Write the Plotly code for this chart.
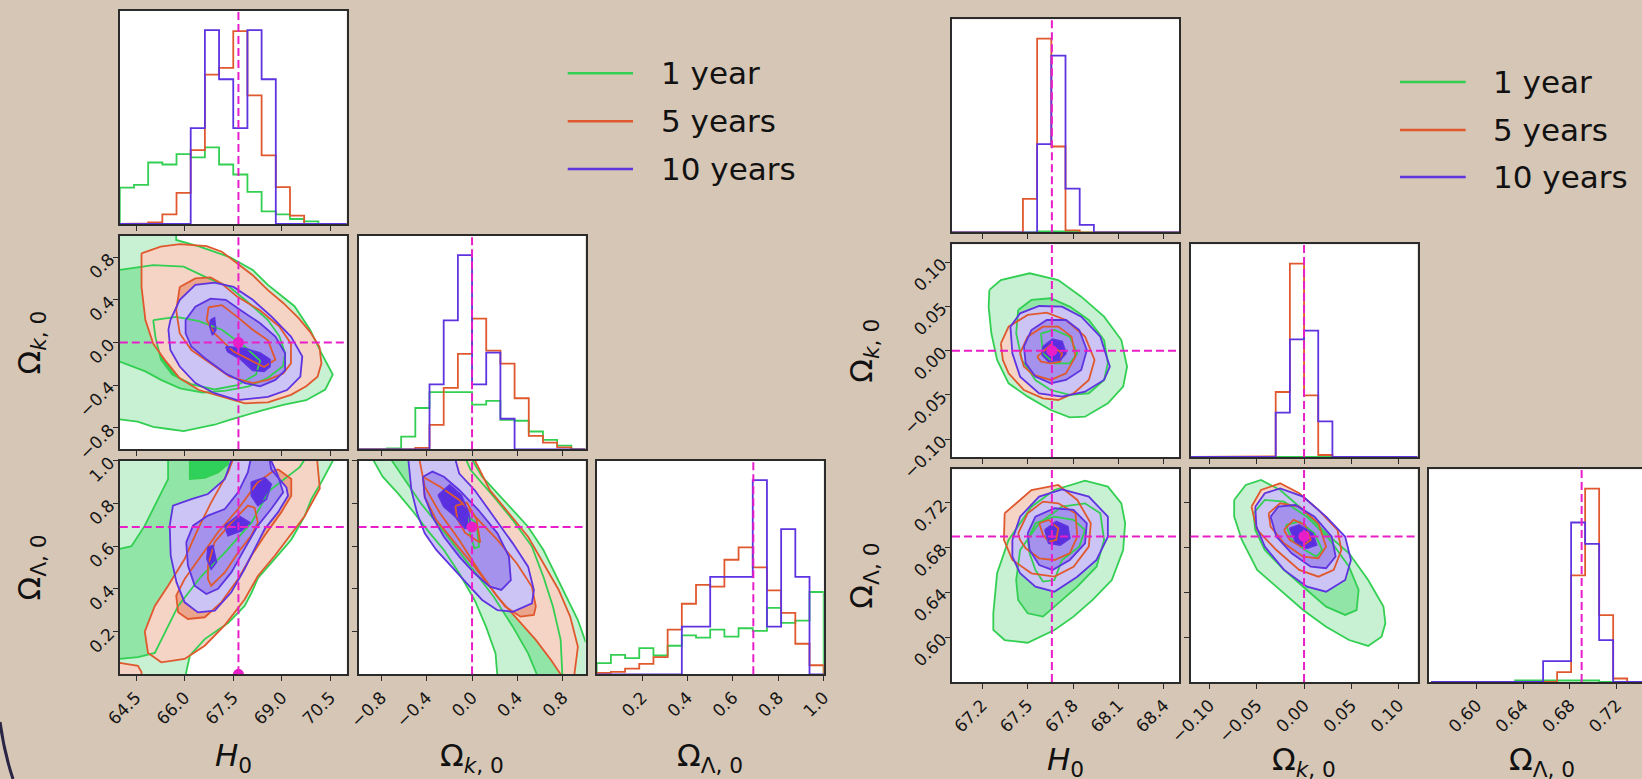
import plotly.graph_objects as go

W, H = 1642, 779
BG = '#d6c6b5'
MAG = '#e81ec8'
FRAME = '#2b2b2b'
FONT = 'DejaVu Sans'
SERIES = ['1 year', '5 years', '10 years']
LINE_COL = ['#33cf52', '#e0592e', '#5e33e0']
FILL_COL = [['#c7f1d2', '#90e5a7', '#2fd15a'],
            ['#f5d3c5', '#eca58d', '#e3764c'],
            ['#ccc4f5', '#a492ec', '#5a2fe0']]

# ---------------- truths ----------------
TRUTH_H0 = 67.66
TRUTH_OK = 0.0
TRUTH_OL = 0.69

# ---------------- axes: ranges & ticks ----------------
L_H0_RANGE = [64.0, 71.0]
L_OK_RANGE = [-1.0, 1.0]
L_OL_RANGE = [0.0, 1.0]
R_H0_RANGE = [67.0, 68.5]
R_OK_RANGE = [-0.12, 0.12]
R_OL_RANGE = [0.56, 0.75]
R_OL_XRANGE = [0.559, 0.7417]   # last column is cut by the window edge

L_H0_TICKS = [64.5, 66.0, 67.5, 69.0, 70.5]
L_OK_TICKS = [-0.8, -0.4, 0.0, 0.4, 0.8]
L_OL_TICKS = [0.2, 0.4, 0.6, 0.8, 1.0]
R_H0_TICKS = [67.2, 67.5, 67.8, 68.1, 68.4]
R_OK_TICKS = [-0.10, -0.05, 0.0, 0.05, 0.10]
R_OL_TICKS = [0.60, 0.64, 0.68, 0.72]

# ---------------- 1D histograms (edges + counts: 1yr, 5yr, 10yr) ----------------
L_H0_EDGES = [64.0, 64.4375, 64.875, 65.3125, 65.75, 66.1875, 66.625, 67.0625, 67.5,
              67.9375, 68.375, 68.8125, 69.25, 69.6875, 70.125, 70.5625, 71.0]
L_H0_1YR = [109, 117, 184, 178, 209, 199, 229, 178, 148, 96, 38, 29, 15, 8, 0, 0]
L_H0_5YR = [0, 2, 5, 29, 93, 221, 447, 467, 577, 385, 205, 110, 25, 1, 0, 0]
L_H0_10YR = [0, 0, 0, 0, 0, 287, 580, 433, 287, 580, 433, 0, 0, 0, 0, 0]

L_OK_EDGES = [-1.0, -0.875, -0.75, -0.625, -0.5, -0.375, -0.25, -0.125, 0.0,
              0.125, 0.25, 0.375, 0.5, 0.625, 0.75, 0.875, 1.0]
L_OK_1YR = [0, 0, 3, 38, 123, 170, 170, 170, 133, 144, 88, 85, 53, 28, 11, 0]
L_OK_5YR = [0, 0, 0, 0, 4, 73, 183, 284, 389, 294, 255, 152, 40, 20, 6, 0]
L_OK_10YR = [0, 0, 0, 0, 0, 193, 384, 578, 193, 288, 91, 0, 0, 0, 0, 0]

L_OL_EDGES = [0.0, 0.0625, 0.125, 0.1875, 0.25, 0.3125, 0.375, 0.4375, 0.5,
              0.5625, 0.625, 0.6875, 0.75, 0.8125, 0.875, 0.9375, 1.0]
L_OL_1YR = [33, 58, 48, 78, 56, 85, 116, 109, 133, 112, 137, 129, 198, 153, 160, 245]
L_OL_5YR = [4, 7, 17, 31, 51, 133, 210, 266, 261, 341, 378, 318, 250, 183, 91, 27]
L_OL_10YR = [0, 0, 0, 0, 0, 0, 142, 142, 290, 290, 290, 578, 142, 432, 290, 0]

R_H0_EDGES = [67.0, 67.09375, 67.1875, 67.28125, 67.375, 67.46875, 67.5625, 67.65625, 67.75,
              67.84375, 67.9375, 68.03125, 68.125, 68.21875, 68.3125, 68.40625, 68.5]
R_H0_1YR = [0, 0, 0, 0, 0, 0, 3, 3, 3, 0, 0, 0, 0, 0, 0, 0]
R_H0_5YR = [0, 0, 0, 0, 0, 100, 580, 257, 6, 0, 0, 0, 0, 0, 0, 0]
R_H0_10YR = [0, 0, 0, 0, 0, 0, 264, 529, 131, 22, 0, 0, 0, 0, 0, 0]

R_OK_EDGES = [-0.12, -0.105, -0.09, -0.075, -0.06, -0.045, -0.03, -0.015, 0.0,
              0.015, 0.03, 0.045, 0.06, 0.075, 0.09, 0.105, 0.12]
R_OK_1YR = [0, 0, 0, 0, 0, 0, 2, 2, 2, 2, 0, 0, 0, 0, 0, 0]
R_OK_5YR = [0, 0, 0, 0, 0, 2, 195, 580, 185, 6, 0, 0, 0, 0, 0, 0]
R_OK_10YR = [0, 0, 0, 0, 0, 0, 133, 353, 379, 107, 0, 0, 0, 0, 0, 0]

R_OL_EDGES = [0.561, 0.573, 0.585, 0.597, 0.609, 0.621, 0.633, 0.645, 0.657,
              0.669, 0.681, 0.693, 0.705, 0.717, 0.729, 0.741, 0.753]
R_OL_1YR = [0, 0, 0, 0, 0, 0, 3, 3, 3, 3, 3, 3, 0, 0, 0, 0]
R_OL_5YR = [0, 0, 0, 0, 0, 0, 0, 0, 0, 20, 214, 388, 134, 7, 0, 0]
R_OL_10YR = [0, 0, 0, 0, 0, 0, 0, 0, 42, 42, 320, 277, 84, 0, 0, 0]

# ---------------- 2D contours (rings of (x, y)) ----------------
# levels: 1 = outer, 2 = middle, 3 = inner ; G = 1 year, O = 5 years, P = 10 years
# Left plot, H0 vs Omega_k
L_HK_G1 = [[(63.5, 1.2), (65.74, 1.2), (65.74, 0.96), (66.44, 0.90), (67.39, 0.80), (68.10, 0.68),
            (68.57, 0.54), (69.04, 0.43), (69.39, 0.34), (69.87, 0.12), (70.22, -0.10), (70.57, -0.30),
            (70.34, -0.44), (69.75, -0.54), (69.04, -0.585), (68.45, -0.63), (67.86, -0.68),
            (67.39, -0.725), (66.92, -0.77), (66.44, -0.80), (65.97, -0.83), (65.50, -0.81),
            (65.03, -0.79), (64.55, -0.74), (64.0, -0.72), (63.5, -0.72)]]
L_HK_G2 = [[(63.5, 0.68), (64.0, 0.68), (65.03, 0.725), (65.97, 0.71), (66.67, 0.61), (67.39, 0.52),
            (67.98, 0.37), (68.57, 0.21), (68.92, 0.06), (69.10, -0.10), (69.04, -0.22), (68.57, -0.33),
            (67.98, -0.41), (67.27, -0.45), (66.56, -0.47), (65.86, -0.43), (65.27, -0.35),
            (64.79, -0.27), (64.0, -0.18), (63.5, -0.18)]]
L_HK_G3 = [[(65.03, 0.21), (65.74, 0.24), (66.44, 0.20), (67.15, 0.12), (67.86, -0.04), (68.33, -0.17),
            (68.2, -0.30), (67.63, -0.40), (66.92, -0.44), (66.2, -0.39), (65.62, -0.30), (65.27, -0.16),
            (65.1, 0.05)]]
L_HK_O1 = [[(64.67, 0.835), (65.26, 0.897), (65.85, 0.922), (66.68, 0.903), (67.15, 0.85), (67.62, 0.74),
            (68.10, 0.63), (68.57, 0.49), (69.04, 0.37), (69.51, 0.23), (69.87, 0.10), (70.16, -0.04),
            (70.22, -0.195), (70.10, -0.32), (69.75, -0.41), (69.28, -0.49), (68.57, -0.56),
            (67.86, -0.57), (67.15, -0.51), (66.44, -0.445), (65.85, -0.335), (65.38, -0.16),
            (65.03, -0.01), (64.79, 0.21), (64.67, 0.52)]]
L_HK_O2 = [[(65.85, 0.52), (66.33, 0.60), (66.80, 0.61), (67.15, 0.55), (67.62, 0.43), (68.33, 0.30),
            (68.92, 0.15), (69.28, -0.01), (69.28, -0.195), (69.04, -0.29), (68.57, -0.35), (68.10, -0.38),
            (67.39, -0.32), (66.80, -0.195), (66.21, -0.07), (65.85, 0.085), (65.74, 0.30)]]
L_HK_O3 = [[(66.74, 0.33), (67.15, 0.35), (67.62, 0.24), (68.10, 0.12), (68.57, 0.02), (68.80, -0.16),
            (68.45, -0.23), (67.98, -0.16), (67.51, -0.085), (66.92, 0.085), (66.68, 0.21)]]
L_HK_P1 = [[(65.56, 0.21), (65.85, 0.40), (66.33, 0.54), (66.92, 0.56), (67.51, 0.52), (68.10, 0.40),
            (68.69, 0.24), (69.28, 0.055), (69.63, -0.13), (69.57, -0.32), (69.16, -0.445), (68.57, -0.51),
            (67.62, -0.54), (66.92, -0.475), (66.33, -0.38), (65.85, -0.225), (65.56, -0.07), (65.50, 0.12)]]
L_HK_P2 = [[(66.03, 0.21), (66.33, 0.335), (66.80, 0.41), (67.27, 0.40), (67.74, 0.30), (68.33, 0.18),
            (68.80, 0.055), (69.10, -0.10), (69.10, -0.26), (68.80, -0.35), (68.33, -0.41), (67.86, -0.38),
            (67.27, -0.29), (66.68, -0.16), (66.21, -0.04), (66.03, 0.085)]]
L_HK_P3 = [[(67.27, -0.04), (67.86, -0.055), (68.33, -0.10), (68.63, -0.16), (68.63, -0.225),
            (68.45, -0.27), (68.10, -0.26), (67.74, -0.16), (67.33, -0.085)],
           [(66.80, 0.21), (66.92, 0.23), (66.96, 0.12), (66.86, 0.07), (66.78, 0.15)]]

# Left plot, H0 vs Omega_Lambda
L_HL_G1 = [[(63.5, 1.05), (70.75, 1.05), (70.22, 0.90), (69.91, 0.82), (69.70, 0.74), (69.29, 0.63),
            (68.78, 0.54), (68.26, 0.45), (68.06, 0.38), (67.85, 0.32), (67.34, 0.24), (66.62, 0.165),
            (66.16, 0.087), (66.05, 0.01), (66.0, -0.05), (63.5, -0.05)]]
L_HL_G2 = [[(65.49, 1.05), (65.49, 0.914), (65.18, 0.82), (64.77, 0.696), (64.36, 0.60), (64.0, 0.587),
            (63.5, 0.587), (63.5, 0.06), (64.0, 0.072), (64.56, 0.08), (65.08, 0.10), (65.80, 0.32),
            (66.52, 0.46), (67.24, 0.57), (68.06, 0.71), (68.62, 0.86), (69.55, 0.97), (69.9, 1.05)]]
L_HL_G3 = [[(66.16, 1.05), (66.16, 0.914), (66.62, 0.92), (67.03, 0.945), (67.34, 0.984), (67.4, 1.05)]]
L_HL_O1 = [[(70.06, 1.05), (70.17, 0.87), (69.70, 0.74), (69.29, 0.66), (68.78, 0.555), (68.26, 0.46),
            (67.85, 0.35), (67.24, 0.23), (66.62, 0.134), (66.0, 0.072), (65.28, 0.056), (64.87, 0.10),
            (64.77, 0.20), (65.08, 0.32), (65.49, 0.415), (66.0, 0.54), (66.41, 0.68), (66.82, 0.805),
            (67.34, 0.945), (67.6, 1.05)],
           [(63.5, 0.052), (64.0, 0.053), (64.56, 0.04), (64.67, 0.01), (64.67, -0.05), (63.5, -0.05)]]
L_HL_O2 = [[(68.88, 0.96), (69.29, 0.914), (69.29, 0.836), (68.98, 0.758), (68.47, 0.65), (68.06, 0.555),
            (67.65, 0.446), (67.13, 0.337), (66.62, 0.267), (66.10, 0.259), (65.80, 0.29), (65.74, 0.368),
            (66.0, 0.446), (66.52, 0.555), (67.03, 0.665), (67.65, 0.774), (68.26, 0.90), (68.67, 0.945)]]
L_HL_O3 = [[(66.72, 0.51), (66.93, 0.62), (67.44, 0.71), (67.95, 0.79), (68.16, 0.78), (68.26, 0.71),
            (68.06, 0.65), (67.65, 0.57), (67.24, 0.477), (66.82, 0.415), (66.72, 0.446)]]
L_HL_P1 = [[(65.54, 0.696), (65.64, 0.79), (66.21, 0.82), (66.72, 0.844), (67.24, 0.914), (67.55, 1.05),
            (68.57, 1.05), (68.67, 0.96), (69.14, 0.875), (69.19, 0.836), (68.88, 0.758), (68.47, 0.68),
            (68.16, 0.587), (67.85, 0.493), (67.44, 0.384), (66.93, 0.298), (66.41, 0.29), (66.0, 0.337),
            (65.75, 0.43), (65.57, 0.555)]]
L_HL_P2 = [[(66.05, 0.618), (66.26, 0.696), (66.72, 0.743), (67.24, 0.774), (67.65, 0.852), (67.95, 0.945),
            (68.1, 1.05), (68.52, 1.05), (68.88, 0.93), (69.04, 0.852), (68.67, 0.774), (68.26, 0.696),
            (67.85, 0.587), (67.44, 0.477), (67.03, 0.40), (66.67, 0.376), (66.31, 0.415), (66.10, 0.51)]]
L_HL_P3 = [[(68.06, 0.90), (68.47, 0.92), (68.67, 0.89), (68.52, 0.82), (68.26, 0.79), (68.06, 0.836)],
           [(67.24, 0.696), (67.65, 0.743), (68.01, 0.71), (67.75, 0.672), (67.34, 0.649)],
           [(66.72, 0.594), (66.87, 0.602), (66.98, 0.524), (66.82, 0.493), (66.69, 0.54)]]

# Left plot, Omega_k vs Omega_Lambda
L_KL_G1 = [[(-0.92, 1.05), (-0.788, 0.925), (-0.653, 0.847), (-0.518, 0.761), (-0.383, 0.668),
            (-0.248, 0.582), (-0.113, 0.473), (0.022, 0.348), (0.123, 0.223), (0.207, 0.098),
            (0.23, -0.05), (1.1, -0.05), (1.1, 0.153), (1.0, 0.153), (0.933, 0.254), (0.831, 0.363),
            (0.730, 0.473), (0.629, 0.582), (0.494, 0.691), (0.359, 0.769), (0.224, 0.847),
            (0.089, 0.925), (-0.05, 1.05)]]
L_KL_G2 = [[(-0.77, 1.05), (-0.450, 0.80), (-0.214, 0.644), (-0.012, 0.504), (0.191, 0.363),
            (0.359, 0.223), (0.494, 0.098), (0.61, -0.05), (0.80, -0.05), (0.781, 0.161), (0.713, 0.317),
            (0.629, 0.457), (0.528, 0.598), (0.359, 0.722), (0.191, 0.832), (-0.012, 0.956), (-0.09, 1.05)]]
L_KL_G3 = [[(-0.029, 0.738), (0.039, 0.707), (0.062, 0.598), (0.022, 0.59), (-0.019, 0.66)]]
L_KL_O1 = [[(-0.02, 1.05), (0.157, 0.862), (0.325, 0.754), (0.494, 0.644), (0.629, 0.52), (0.764, 0.395),
            (0.865, 0.27), (0.933, 0.129), (0.89, -0.05), (0.80, -0.05), (0.781, 0.0), (0.696, 0.067),
            (0.562, 0.161), (0.359, 0.285), (0.224, 0.363), (0.056, 0.488), (-0.113, 0.629),
            (-0.282, 0.754), (-0.417, 0.878), (-0.48, 1.05)]]
L_KL_O2 = [[(-0.433, 0.925), (-0.282, 0.878), (-0.113, 0.816), (0.056, 0.722), (0.224, 0.629),
            (0.393, 0.52), (0.528, 0.41), (0.562, 0.317), (0.545, 0.278), (0.427, 0.27), (0.292, 0.317),
            (0.157, 0.41), (0.022, 0.504), (-0.147, 0.613), (-0.315, 0.722), (-0.417, 0.83)]]
L_KL_O3 = [[(-0.147, 0.788), (-0.046, 0.804), (0.039, 0.726), (0.072, 0.617), (0.022, 0.632),
            (-0.062, 0.663), (-0.130, 0.726)]]
L_KL_P1 = [[(-0.57, 1.05), (-0.17, 1.05), (-0.113, 0.94), (0.022, 0.863), (0.191, 0.738), (0.359, 0.613),
            (0.494, 0.504), (0.545, 0.395), (0.528, 0.332), (0.359, 0.293), (0.224, 0.30), (0.089, 0.348),
            (-0.046, 0.426), (-0.180, 0.504), (-0.315, 0.582), (-0.417, 0.66), (-0.484, 0.754),
            (-0.535, 0.863)]]
L_KL_P2 = [[(-0.433, 0.925), (-0.349, 0.949), (-0.248, 0.925), (-0.113, 0.863), (0.056, 0.769),
            (0.224, 0.66), (0.325, 0.551), (0.342, 0.441), (0.258, 0.395), (0.157, 0.41), (0.022, 0.473),
            (-0.113, 0.551), (-0.248, 0.644), (-0.349, 0.738), (-0.417, 0.83)]]
L_KL_P3 = [[(-0.298, 0.839), (-0.197, 0.886), (-0.096, 0.839), (-0.029, 0.754), (-0.012, 0.691),
            (-0.062, 0.683), (-0.147, 0.738), (-0.248, 0.785)]]

# Right plot, H0 vs Omega_k
R_HK_G1 = [[(67.247, 0.0685), (67.323, 0.0797), (67.513, 0.0873), (67.702, 0.0797), (67.854, 0.0609),
            (68.005, 0.0384), (68.119, 0.0120), (68.157, -0.0181), (68.131, -0.0406), (68.030, -0.0594),
            (67.879, -0.0745), (67.778, -0.0752), (67.652, -0.0670), (67.5, -0.0519), (67.374, -0.0369),
            (67.298, -0.0105), (67.260, 0.0196), (67.242, 0.0497)]]
R_HK_G2 = [[(67.437, 0.0459), (67.525, 0.0572), (67.652, 0.0591), (67.778, 0.0497), (67.904, 0.0346),
            (68.005, 0.0120), (68.030, -0.0143), (68.005, -0.0331), (67.904, -0.0482), (67.778, -0.0500),
            (67.652, -0.0444), (67.551, -0.0331), (67.462, -0.0105), (67.424, 0.0196)]]
R_HK_G3 = [[(67.588, 0.0196), (67.677, 0.0233), (67.778, 0.0158), (67.828, -0.003), (67.778, -0.0143),
            (67.677, -0.0143), (67.601, -0.003)]]
R_HK_O1 = [[(67.323, 0.0083), (67.374, 0.0271), (67.5, 0.0403), (67.626, 0.0429), (67.753, 0.0346),
            (67.879, 0.0158), (67.942, -0.0105), (67.904, -0.0331), (67.803, -0.0482), (67.702, -0.0557),
            (67.601, -0.0538), (67.475, -0.0444), (67.374, -0.0256), (67.336, -0.0105)]]
R_HK_O2 = [[(67.449, -0.003), (67.5, 0.0158), (67.601, 0.0271), (67.702, 0.0271), (67.790, 0.0158),
            (67.816, -0.0067), (67.753, -0.0256), (67.652, -0.0331), (67.538, -0.0274), (67.475, -0.0180)]]
R_HK_O3 = [[(67.563, -0.0067), (67.652, 0.0064), (67.727, -0.003), (67.715, -0.0124), (67.652, -0.0143),
            (67.588, -0.0124)]]
R_HK_P1 = [[(67.386, 0.0271), (67.450, 0.0421), (67.576, 0.0504), (67.727, 0.0497), (67.854, 0.0384),
            (67.980, 0.0158), (68.043, -0.0181), (68.005, -0.0331), (67.879, -0.0463), (67.727, -0.0519),
            (67.576, -0.0482), (67.450, -0.0293), (67.399, -0.003)]]
R_HK_P2 = [[(67.475, 0.0045), (67.525, 0.0233), (67.626, 0.0346), (67.753, 0.0346), (67.841, 0.0233),
            (67.891, 0.0008), (67.854, -0.0218), (67.753, -0.0331), (67.652, -0.0369), (67.551, -0.0293),
            (67.487, -0.0143)]]
R_HK_P3 = [[(67.601, 0.0045), (67.664, 0.0128), (67.727, 0.0102), (67.753, -0.003), (67.715, -0.0105),
            (67.639, -0.0124), (67.596, -0.0049)]]

# Right plot, H0 vs Omega_Lambda
R_HL_G1 = [[(67.273, 0.6214), (67.298, 0.6571), (67.374, 0.6869), (67.525, 0.7166), (67.677, 0.7315),
            (67.879, 0.7399), (68.030, 0.7345), (68.119, 0.7196), (68.144, 0.7018), (68.131, 0.6779),
            (68.056, 0.6511), (67.929, 0.6333), (67.803, 0.6184), (67.677, 0.6065), (67.5, 0.5951),
            (67.348, 0.5975), (67.273, 0.6065)]]
R_HL_G2 = [[(67.424, 0.6511), (67.450, 0.6779), (67.576, 0.7018), (67.727, 0.7166), (67.879, 0.7196),
            (67.980, 0.7107), (68.005, 0.6869), (67.955, 0.6630), (67.828, 0.6452), (67.702, 0.6303),
            (67.601, 0.6184), (67.5, 0.6214), (67.437, 0.6333)]]
R_HL_G3 = [[(67.5, 0.6869), (67.551, 0.7018), (67.677, 0.7077), (67.803, 0.7048), (67.879, 0.6958),
            (67.841, 0.6809), (67.727, 0.669), (67.677, 0.6511), (67.601, 0.6497), (67.551, 0.6601),
            (67.513, 0.6750)]]
R_HL_O1 = [[(67.348, 0.7107), (67.525, 0.7315), (67.702, 0.736), (67.828, 0.7226), (67.917, 0.7018),
            (67.904, 0.6809), (67.803, 0.6630), (67.677, 0.6541), (67.525, 0.6571), (67.399, 0.6690),
            (67.343, 0.6869)]]
R_HL_O2 = [[(67.437, 0.6928), (67.5, 0.7107), (67.601, 0.7211), (67.702, 0.7196), (67.816, 0.7107),
            (67.828, 0.6899), (67.778, 0.675), (67.677, 0.669), (67.576, 0.6705), (67.487, 0.6794),
            (67.450, 0.6869)]]
R_HL_O3 = [[(67.576, 0.7018), (67.639, 0.7048), (67.702, 0.6973), (67.689, 0.6869), (67.639, 0.6854),
            (67.601, 0.6914)]]
R_HL_P1 = [[(67.399, 0.6869), (67.450, 0.7077), (67.576, 0.7256), (67.727, 0.7321), (67.904, 0.7256),
            (68.030, 0.7077), (68.030, 0.6898), (67.955, 0.6690), (67.828, 0.6541), (67.677, 0.6407),
            (67.551, 0.6452), (67.450, 0.6571), (67.399, 0.672)]]
R_HL_P2 = [[(67.5, 0.6928), (67.551, 0.7077), (67.677, 0.7152), (67.803, 0.7137), (67.891, 0.7018),
            (67.879, 0.6839), (67.778, 0.669), (67.664, 0.6601), (67.576, 0.6645), (67.513, 0.6779)]]
R_HL_P3 = [[(67.614, 0.6958), (67.689, 0.7033), (67.765, 0.6988), (67.778, 0.6884), (67.715, 0.6824),
            (67.639, 0.6839)]]

# Right plot, Omega_k vs Omega_Lambda
R_KL_G1 = [[(-0.0739, 0.7226), (-0.0617, 0.736), (-0.0455, 0.7405), (-0.0253, 0.7315), (-0.0010, 0.7137),
            (0.0233, 0.6928), (0.0476, 0.6750), (0.0678, 0.6511), (0.0840, 0.6273), (0.0860, 0.6124),
            (0.0820, 0.6005), (0.0678, 0.5922), (0.0476, 0.5975), (0.0233, 0.6094), (-0.0010, 0.6243),
            (-0.0253, 0.6422), (-0.0496, 0.6601), (-0.0658, 0.6869), (-0.0739, 0.7077)]]
R_KL_G2 = [[(-0.0536, 0.7107), (-0.0415, 0.7226), (-0.0212, 0.7211), (0.0030, 0.7077), (0.0273, 0.6869),
            (0.0476, 0.6630), (0.0577, 0.6422), (0.0556, 0.6243), (0.0435, 0.6199), (0.0233, 0.6273),
            (0.0030, 0.6422), (-0.0212, 0.6601), (-0.0415, 0.6779), (-0.0516, 0.6958)]]
R_KL_G3 = [[(-0.0192, 0.7003), (-0.0050, 0.7033), (0.0111, 0.6928), (0.0192, 0.6779), (0.0131, 0.672),
            (0.0010, 0.6779), (-0.0131, 0.6869)]]
R_KL_O1 = [[(-0.0556, 0.7166), (-0.0455, 0.7315), (-0.0253, 0.7375), (-0.0051, 0.7286), (0.0152, 0.7137),
            (0.0354, 0.6958), (0.0395, 0.6779), (0.0314, 0.6601), (0.0152, 0.6541), (-0.0051, 0.6601),
            (-0.0293, 0.6779), (-0.0496, 0.6958)]]
R_KL_O2 = [[(-0.0374, 0.7107), (-0.0253, 0.7196), (-0.0051, 0.7166), (0.0152, 0.7018), (0.0233, 0.6809),
            (0.0152, 0.6705), (-0.001, 0.672), (-0.0212, 0.6839), (-0.0354, 0.6988)]]
R_KL_O3 = [[(-0.0212, 0.6958), (-0.0111, 0.7048), (0.0010, 0.7003), (0.0071, 0.6869), (-0.0030, 0.6809),
            (-0.0152, 0.6869)]]
R_KL_P1 = [[(-0.0516, 0.7166), (-0.0415, 0.7286), (-0.0253, 0.7330), (-0.0010, 0.7256), (0.0233, 0.7077),
            (0.0435, 0.6899), (0.0496, 0.669), (0.0435, 0.6511), (0.0233, 0.6407), (0.0030, 0.6452),
            (-0.0212, 0.6601), (-0.0415, 0.6809), (-0.0504, 0.6988)]]
R_KL_P2 = [[(-0.0354, 0.7077), (-0.0273, 0.7166), (-0.0091, 0.7181), (0.0111, 0.7077), (0.0293, 0.6899),
            (0.0334, 0.672), (0.0233, 0.6616), (0.0071, 0.6630), (-0.0131, 0.675), (-0.0293, 0.6899)]]
R_KL_P3 = [[(-0.0152, 0.6973), (-0.0051, 0.7003), (0.0091, 0.6928), (0.0131, 0.6824), (0.0030, 0.6794),
            (-0.0091, 0.6854)]]

# ---------------- layout geometry (pixels in the 1642x779 page) ----------------
L_COLS = [(119.8, 346.7), (358.6, 585.5), (596.7, 823.7)]
L_ROWS = [(10.7, 224.0), (235.7, 449.3), (460.7, 674.3)]
R_COLS = [(952.0, 1179.0), (1190.6, 1417.5), (1428.7, 1642.0)]
R_ROWS = [(19.3, 232.3), (244.3, 457.0), (469.3, 682.0)]


def xdom(c):
    return [c[0] / W, c[1] / W]


def ydom(r):
    return [1 - r[1] / H, 1 - r[0] / H]


fig = go.Figure()
layout_axes = {}
_n = [0]

TICKFONT = dict(family=FONT, size=17, color='#151515')


def new_axes(col, row, xr, yr, xt=None, xfmt=None, xlab=False, yt=None, yfmt=None, ylab=False,
             ymirror=True, tickfont=TICKFONT):
    _n[0] += 1
    n = _n[0]
    s = '' if n == 1 else str(n)
    base = dict(showline=True, linecolor=FRAME, linewidth=1.5, showgrid=False, zeroline=False,
                fixedrange=True, automargin=False, ticklen=5, tickwidth=1.3, tickcolor=FRAME,
                tickfont=tickfont)
    xa = dict(base, domain=xdom(col), range=xr, anchor='y' + s, mirror=True)
    if xt is not None:
        xa.update(tickmode='array', tickvals=xt, ticks='outside', showticklabels=xlab,
                  tickformat=xfmt, tickangle=-45)
    else:
        xa.update(ticks='', showticklabels=False)
    ya = dict(base, domain=ydom(row), range=yr, anchor='x' + s, mirror=ymirror)
    if yt is not None:
        ya.update(tickmode='array', tickvals=yt, ticks='outside', showticklabels=ylab,
                  tickformat=yfmt, tickangle=-45)
    else:
        ya.update(ticks='', showticklabels=False)
    layout_axes['xaxis' + s] = xa
    layout_axes['yaxis' + s] = ya
    return 'x' + s, 'y' + s


def step_xy(edges, counts):
    xs, ys = [edges[0]], [0]
    for i, c in enumerate(counts):
        xs += [edges[i], edges[i + 1]]
        ys += [c, c]
    xs.append(edges[-1])
    ys.append(0)
    return xs, ys


def rings_xy(rings):
    xs, ys = [], []
    for k, ring in enumerate(rings):
        if k:
            xs.append(None)
            ys.append(None)
        xs += [p[0] for p in ring] + [ring[0][0]]
        ys += [p[1] for p in ring] + [ring[0][1]]
    return xs, ys


def truth_lines(xa, ya, tx=None, ty=None):
    dash = dict(color=MAG, width=2, dash='8px,4px')
    if tx is not None:
        fig.add_shape(type='line', xref=xa, yref=ya + ' domain', x0=tx, x1=tx, y0=0, y1=1, line=dash)
    if ty is not None:
        fig.add_shape(type='line', xref=xa + ' domain', yref=ya, x0=0, x1=1, y0=ty, y1=ty, line=dash)


def hist_panel(xa, ya, edges, series, truth):
    for k, counts in enumerate(series):
        xs, ys = step_xy(edges, counts)
        fig.add_trace(go.Scatter(x=xs, y=ys, xaxis=xa, yaxis=ya, mode='lines', showlegend=False,
                                 line=dict(color=LINE_COL[k], width=1.8), hoverinfo='skip'))
    truth_lines(xa, ya, tx=truth)


def contour_panel(xa, ya, levels, tx, ty, mark):
    # levels: [series][level] -> rings
    for k, lv in enumerate(levels):
        for j, rings in enumerate(lv):
            xs, ys = rings_xy(rings)
            fig.add_trace(go.Scatter(x=xs, y=ys, xaxis=xa, yaxis=ya, mode='lines', fill='toself',
                                     fillcolor=FILL_COL[k][j], line=dict(width=0), showlegend=False,
                                     hoverinfo='skip'))
    for k, lv in enumerate(levels):
        for j, rings in enumerate(lv):
            xs, ys = rings_xy(rings)
            fig.add_trace(go.Scatter(x=xs, y=ys, xaxis=xa, yaxis=ya, mode='lines',
                                     line=dict(color=LINE_COL[k], width=1.8), showlegend=False,
                                     hoverinfo='skip'))
    truth_lines(xa, ya, tx=tx, ty=ty)
    fig.add_trace(go.Scatter(x=[mark[0]], y=[mark[1]], xaxis=xa, yaxis=ya, mode='markers',
                             marker=dict(color=MAG, size=11), showlegend=False, cliponaxis=True,
                             hoverinfo='skip'))


# ================= LEFT CORNER PLOT =================
L_OL_YHIST = [0, 1.1 * max(max(L_OL_1YR), max(L_OL_5YR), max(L_OL_10YR))]
xa, ya = new_axes(L_COLS[0], L_ROWS[0], L_H0_RANGE,
                  [0, 1.1 * max(max(L_H0_1YR), max(L_H0_5YR), max(L_H0_10YR))], xt=L_H0_TICKS)
hist_panel(xa, ya, L_H0_EDGES, [L_H0_1YR, L_H0_5YR, L_H0_10YR], TRUTH_H0)

xa, ya = new_axes(L_COLS[0], L_ROWS[1], L_H0_RANGE, L_OK_RANGE, xt=L_H0_TICKS,
                  yt=L_OK_TICKS, yfmt='.1f', ylab=True)
contour_panel(xa, ya, [[L_HK_G1, L_HK_G2, L_HK_G3], [L_HK_O1, L_HK_O2, L_HK_O3],
                       [L_HK_P1, L_HK_P2, L_HK_P3]], TRUTH_H0, TRUTH_OK, (TRUTH_H0, TRUTH_OK))

xa, ya = new_axes(L_COLS[1], L_ROWS[1], L_OK_RANGE,
                  [0, 1.1 * max(max(L_OK_1YR), max(L_OK_5YR), max(L_OK_10YR))], xt=L_OK_TICKS)
hist_panel(xa, ya, L_OK_EDGES, [L_OK_1YR, L_OK_5YR, L_OK_10YR], TRUTH_OK)

xa, ya = new_axes(L_COLS[0], L_ROWS[2], L_H0_RANGE, L_OL_RANGE, xt=L_H0_TICKS, xfmt='.1f', xlab=True,
                  yt=L_OL_TICKS, yfmt='.1f', ylab=True)
contour_panel(xa, ya, [[L_HL_G1, L_HL_G2, L_HL_G3], [L_HL_O1, L_HL_O2, L_HL_O3],
                       [L_HL_P1, L_HL_P2, L_HL_P3]], TRUTH_H0, TRUTH_OL, (TRUTH_H0, TRUTH_OK))

xa, ya = new_axes(L_COLS[1], L_ROWS[2], L_OK_RANGE, L_OL_RANGE, xt=L_OK_TICKS, xfmt='.1f', xlab=True,
                  yt=L_OL_TICKS)
contour_panel(xa, ya, [[L_KL_G1, L_KL_G2, L_KL_G3], [L_KL_O1, L_KL_O2, L_KL_O3],
                       [L_KL_P1, L_KL_P2, L_KL_P3]], TRUTH_OK, TRUTH_OL, (TRUTH_OK, TRUTH_OL))

xa, ya = new_axes(L_COLS[2], L_ROWS[2], L_OL_RANGE, L_OL_YHIST, xt=L_OL_TICKS, xfmt='.1f', xlab=True)
hist_panel(xa, ya, L_OL_EDGES, [L_OL_1YR, L_OL_5YR, L_OL_10YR], TRUTH_OL)

# ================= RIGHT CORNER PLOT =================
xa, ya = new_axes(R_COLS[0], R_ROWS[0], R_H0_RANGE,
                  [0, 1.1 * max(max(R_H0_1YR), max(R_H0_5YR), max(R_H0_10YR))], xt=R_H0_TICKS)
hist_panel(xa, ya, R_H0_EDGES, [R_H0_1YR, R_H0_5YR, R_H0_10YR], TRUTH_H0)

xa, ya = new_axes(R_COLS[0], R_ROWS[1], R_H0_RANGE, R_OK_RANGE, xt=R_H0_TICKS,
                  yt=R_OK_TICKS, yfmt='.2f', ylab=True)
contour_panel(xa, ya, [[R_HK_G1, R_HK_G2, R_HK_G3], [R_HK_O1, R_HK_O2, R_HK_O3],
                       [R_HK_P1, R_HK_P2, R_HK_P3]], TRUTH_H0, TRUTH_OK, (TRUTH_H0, TRUTH_OK))

xa, ya = new_axes(R_COLS[1], R_ROWS[1], R_OK_RANGE,
                  [0, 1.1 * max(max(R_OK_1YR), max(R_OK_5YR), max(R_OK_10YR))], xt=R_OK_TICKS)
hist_panel(xa, ya, R_OK_EDGES, [R_OK_1YR, R_OK_5YR, R_OK_10YR], TRUTH_OK)

xa, ya = new_axes(R_COLS[0], R_ROWS[2], R_H0_RANGE, R_OL_RANGE, xt=R_H0_TICKS, xfmt='.1f', xlab=True,
                  yt=R_OL_TICKS, yfmt='.2f', ylab=True)
contour_panel(xa, ya, [[R_HL_G1, R_HL_G2, R_HL_G3], [R_HL_O1, R_HL_O2, R_HL_O3],
                       [R_HL_P1, R_HL_P2, R_HL_P3]], TRUTH_H0, TRUTH_OL, (TRUTH_H0, TRUTH_OK))

xa, ya = new_axes(R_COLS[1], R_ROWS[2], R_OK_RANGE, R_OL_RANGE, xt=R_OK_TICKS, xfmt='.2f', xlab=True,
                  yt=R_OL_TICKS)
contour_panel(xa, ya, [[R_KL_G1, R_KL_G2, R_KL_G3], [R_KL_O1, R_KL_O2, R_KL_O3],
                       [R_KL_P1, R_KL_P2, R_KL_P3]], TRUTH_OK, TRUTH_OL, (TRUTH_OK, TRUTH_OL))

xa, ya = new_axes(R_COLS[2], R_ROWS[2], R_OL_XRANGE,
                  [0, 1.1 * max(max(R_OL_1YR), max(R_OL_5YR), max(R_OL_10YR))],
                  xt=R_OL_TICKS, xfmt='.2f', xlab=True, ymirror=False)
hist_panel(xa, ya, R_OL_EDGES, [R_OL_1YR, R_OL_5YR, R_OL_10YR], TRUTH_OL)

# ---------------- labels, legends, decoration ----------------
annotations = []


def label(px, py, text, angle=0, size=31, xanchor='center'):
    annotations.append(dict(x=px / W, y=1 - py / H, xref='paper', yref='paper', text=text,
                            showarrow=False, textangle=angle, xanchor=xanchor, yanchor='middle',
                            font=dict(family=FONT, size=size, color='#111111')))


H0_LBL = '<i>H</i><sub>0</sub>'
OK_LBL = 'Ω<sub><i>k</i>, 0</sub>'
OL_LBL = 'Ω<sub>Λ, 0</sub>'

for cols, ybot in ((L_COLS, 757), (R_COLS, 761)):
    for c, t in zip(cols, (H0_LBL, OK_LBL, OL_LBL)):
        cx = (c[0] + c[0] + 227.0) / 2
        label(cx, ybot, t)
for rows, xl in ((L_ROWS, 31), (R_ROWS, 864)):
    label(xl, (rows[1][0] + rows[1][1]) / 2, OK_LBL, angle=-90)
    label(xl, (rows[2][0] + rows[2][1]) / 2, OL_LBL, angle=-90)

shapes = []
LEGENDS = [((567.7, 633.0), 659.0, [73.3, 121.3, 169.0]),
           ((1400.0, 1465.7), 1491.0, [82.0, 130.0, 177.0])]
for (lx0, lx1), tx, ys in LEGENDS:
    for k, yy in enumerate(ys):
        shapes.append(dict(type='line', xref='paper', yref='paper', x0=lx0 / W, x1=lx1 / W,
                           y0=1 - yy / H, y1=1 - yy / H, line=dict(color=LINE_COL[k], width=2.5)))
        label(tx, yy, SERIES[k], xanchor='left')

# slide decoration arc in the lower-left corner
shapes.append(dict(type='path', xref='paper', yref='paper',
                   path=f'M 0 {1 - 722 / H} Q {4 / W} {1 - 752 / H} {13 / W} 0',
                   line=dict(color='#2a2544', width=3)))

fig.update_layout(
    template='none',
    width=W, height=H, autosize=False,
    margin=dict(l=0, r=0, t=0, b=0, pad=0),
    paper_bgcolor=BG, plot_bgcolor='white',
    showlegend=False,
    font=dict(family=FONT),
    annotations=annotations,
    **layout_axes,
)
for s in shapes:
    fig.add_shape(**s)

fig.write_html('out.html')
